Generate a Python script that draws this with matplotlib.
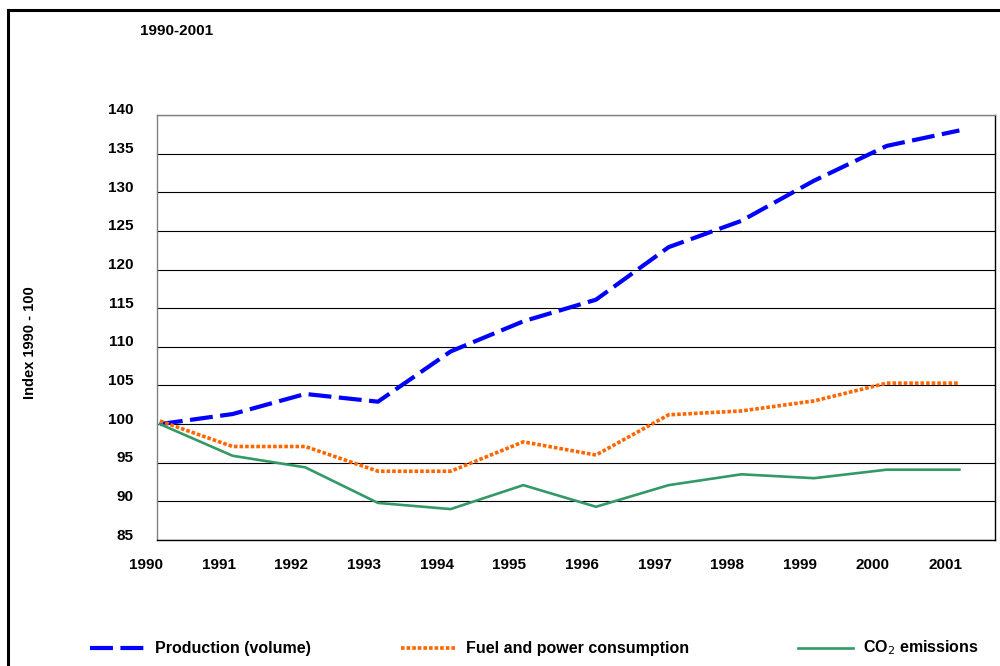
import matplotlib
matplotlib.use("Agg")
import matplotlib.pyplot as plt
from matplotlib.lines import Line2D
from matplotlib.transforms import ScaledTranslation

plt.rcParams['font.family'] = ['Liberation Sans', 'DejaVu Sans']

years = ['1990', '1991', '1992', '1993', '1994', '1995', '1996', '1997', '1998', '1999', '2000', '2001']
production = [100.0, 101.3, 103.9, 102.9, 109.4, 113.3, 116.1, 122.9, 126.3, 131.5, 136.0, 138.0]
fuel_power = [100.4, 97.1, 97.1, 93.9, 93.9, 97.7, 96.0, 101.2, 101.7, 103.0, 105.3, 105.3]
co2 = [100.0, 95.9, 94.4, 89.8, 89.0, 92.1, 89.3, 92.1, 93.5, 93.0, 94.1, 94.1]
yticks = [85, 90, 95, 100, 105, 110, 115, 120, 125, 130, 135, 140]

W, H = 1000, 666
fig = plt.figure(figsize=(10, 6.66), dpi=100)
ax = fig.add_axes([157 / W, 1 - 540 / H, (995 - 157) / W, (540 - 115) / H])

x = list(range(len(years)))
c_prod, c_fuel, c_co2 = '#0000FF', '#FF6600', '#339966'
ls_prod = (0, (5.5, 1.8))
ls_fuel = (0, (1.0, 0.55))
ls_co2 = '-'
lw_prod, lw_fuel, lw_co2 = 3.0, 2.6, 1.9

series = [
    (production, c_prod, ls_prod, lw_prod, 'Production (volume)'),
    (fuel_power, c_fuel, ls_fuel, lw_fuel, 'Fuel and power consumption'),
    (co2, c_co2, ls_co2, lw_co2, 'CO$_2$ emissions'),
]
for vals, c, ls, lw, lab in series:
    ax.plot(x, vals, color=c, lw=lw, linestyle=ls, dash_capstyle='butt', label=lab)

ax.set_xlim(-0.04, 11.49)
ax.set_ylim(85, 140)
ax.set_yticks(yticks)
ax.set_yticklabels([str(v) for v in yticks])
ax.set_xticks(x)
ax.set_xticklabels(years)
for v in yticks:
    ax.axhline(v, color='#000000', lw=0.8, zorder=0)

ax.tick_params(axis='both', length=0, labelsize=11)
ax.tick_params(axis='y', pad=17)
ax.tick_params(axis='x', pad=13)
for t in ax.get_yticklabels():
    t.set_fontweight('bold')
    t.set_transform(t.get_transform() + ScaledTranslation(0, 6 / 100, fig.dpi_scale_trans))
for t in ax.get_xticklabels():
    t.set_fontweight('bold')
    t.set_transform(t.get_transform() + ScaledTranslation(-14 / 100, 0, fig.dpi_scale_trans))

ax.spines['left'].set_color('#808080')
ax.spines['top'].set_color('#808080')
ax.spines['right'].set_color('#000000')
ax.spines['bottom'].set_color('#000000')
for s in ax.spines.values():
    s.set_linewidth(1.0)

# outer frame (top and left)
fig.add_artist(Line2D([8 / W, 1.0], [1 - 10 / H, 1 - 10 / H], color='black', lw=2.2,
                      transform=fig.transFigure))
fig.add_artist(Line2D([8 / W, 8 / W], [1 - 10 / H, 0.0], color='black', lw=2.2,
                      transform=fig.transFigure))

fig.text(140 / W, 1 - 31 / H, '1990-2001', ha='left', va='center', fontsize=11, fontweight='bold')
fig.text(30 / W, 1 - 343 / H, 'Index 1990 - 100', ha='center', va='center', rotation=90,
         fontsize=10.5, fontweight='bold')

# legend
ly = 1 - 648 / H
key_pos = [(90, 145, 155), (401, 457, 466), (798, 853, 863)]
for (vals, c, ls, lw, lab), (x0, x1, tx) in zip(series, key_pos):
    fig.add_artist(Line2D([x0 / W, x1 / W], [ly, ly], color=c, lw=lw, linestyle=ls,
                          dash_capstyle='butt', transform=fig.transFigure))
    fig.text(tx / W, ly, lab, ha='left', va='center', fontsize=11.5, fontweight='bold')

fig.savefig('out.png', dpi=100)
